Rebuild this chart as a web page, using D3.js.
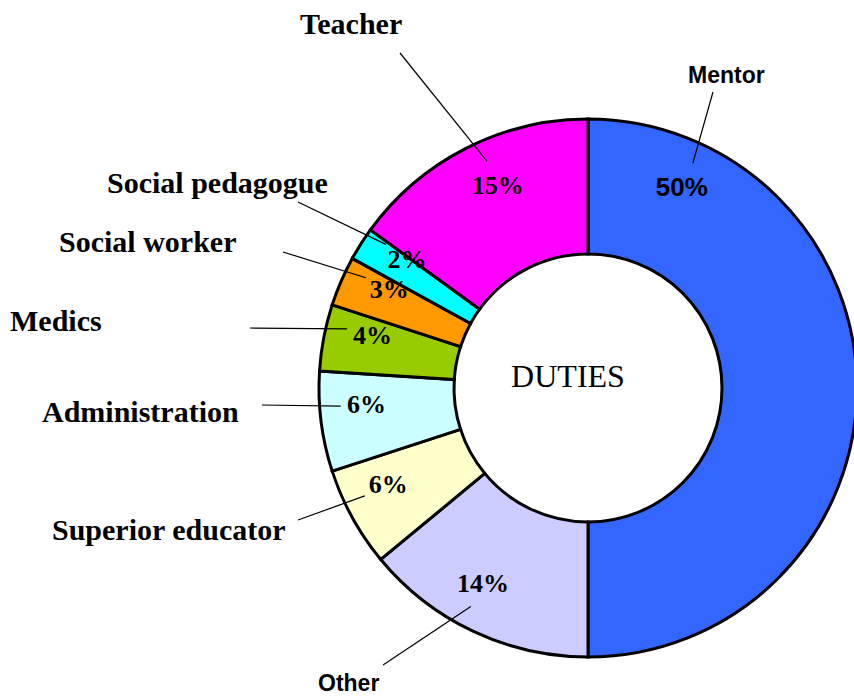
<!DOCTYPE html>
<html>
<head>
<meta charset="utf-8">
<script src="https://cdn.jsdelivr.net/npm/d3@7"></script>
<style>
  body { margin: 0; background: #fff; }
  .slice { stroke: #000; stroke-width: 3; }
  .leader { stroke: #000; stroke-width: 1.2; fill: none; }
  .serif { font-family: "Liberation Serif", "Times New Roman", serif; font-weight: bold; }
  .sans { font-family: "Liberation Sans", Arial, sans-serif; font-weight: bold; }
</style>
</head>
<body>
<div id="chart"></div>
<script>
// Data
var categories = ["Mentor", "Other", "Superior educator", "Administration",
                  "Medics", "Social worker", "Social pedagogue", "Teacher"];
var shares = [50, 14, 6, 6, 4, 3, 2, 15];
var colors = ["#3366ff", "#ccccff", "#ffffcc", "#ccffff",
              "#99cc00", "#ff9900", "#00ffff", "#ff00ff"];
var centerTitle = "DUTIES";

// Label layout: name text anchor and where its leader line starts
var nameSpots = {
    "Mentor":            {x: 688, y: 83,  end: [713, 92]},
    "Teacher":           {x: 300, y: 34,  end: [400, 53]},
    "Social pedagogue":  {x: 107, y: 193, end: [298, 202]},
    "Social worker":     {x: 59,  y: 252, end: [283, 252]},
    "Medics":            {x: 10,  y: 331, end: [250, 328]},
    "Administration":    {x: 42,  y: 422, end: [262, 405]},
    "Superior educator": {x: 52,  y: 540, end: [298, 520]},
    "Other":             {x: 318, y: 691, end: [383, 665]}
};
// the Mentor labels sit near the top of its slice, not at mid-angle
var angleOverride = {"Mentor": 25};
var sansNames = ["Mentor", "Other"];

var width = 854, height = 698;
var cx = 588, cy = 388;
var outerR = 269, innerR = 134;

var svg = d3.select("#chart").append("svg")
    .attr("width", width)
    .attr("height", height);

var g = svg.append("g")
    .attr("transform", "translate(" + cx + "," + cy + ")");

var rows = categories.map(function(c, i) {
    return {name: c, value: shares[i], color: colors[i]};
});

var pie = d3.pie().sort(null).value(function(d) { return d.value; });
var arc = d3.arc().innerRadius(innerR).outerRadius(outerR);
var arcs = pie(rows);

g.selectAll("path.slice")
    .data(arcs)
    .enter().append("path")
        .attr("class", "slice")
        .attr("fill", function(d) { return d.data.color; })
        .attr("d", arc);

// angle (radians) used for labels of a slice
function labelAngle(d) {
    if (angleOverride[d.data.name] !== undefined) {
        return angleOverride[d.data.name] * Math.PI / 180;
    }
    return (d.startAngle + d.endAngle) / 2 + 3 * Math.PI / 180;
}

function polar(a, r) {
    return [r * Math.sin(a), -r * Math.cos(a)];
}

// leader lines
g.selectAll("line.leader")
    .data(arcs)
    .enter().append("line")
        .attr("class", "leader")
        .attr("x1", function(d) { return nameSpots[d.data.name].end[0] - cx; })
        .attr("y1", function(d) { return nameSpots[d.data.name].end[1] - cy; })
        .attr("x2", function(d) { return polar(labelAngle(d), 248)[0]; })
        .attr("y2", function(d) { return polar(labelAngle(d), 248)[1]; });

// percent labels
g.selectAll("text.pct")
    .data(arcs)
    .enter().append("text")
        .attr("class", function(d) {
            return d.data.name === "Mentor" ? "pct sans" : "pct serif";
        })
        .attr("x", function(d) { return polar(labelAngle(d), 222)[0]; })
        .attr("y", function(d) { return polar(labelAngle(d), 222)[1]; })
        .attr("text-anchor", "middle")
        .attr("dominant-baseline", "central")
        .style("font-size", "26px")
        .text(function(d) { return d.data.value + "%"; });

// category names
svg.selectAll("text.name")
    .data(rows)
    .enter().append("text")
        .attr("class", function(d) {
            return sansNames.indexOf(d.name) >= 0 ? "name sans" : "name serif";
        })
        .attr("x", function(d) { return nameSpots[d.name].x; })
        .attr("y", function(d) { return nameSpots[d.name].y; })
        .style("font-size", function(d) {
            return sansNames.indexOf(d.name) >= 0 ? "23px" : "30px";
        })
        .text(function(d) { return d.name; });

// centre title
svg.append("text")
    .attr("x", 568)
    .attr("y", 387)
    .attr("text-anchor", "middle")
    .style("font-family", "'Liberation Serif', 'Times New Roman', serif")
    .style("font-size", "32px")
    .text(centerTitle);
</script>
</body>
</html>
